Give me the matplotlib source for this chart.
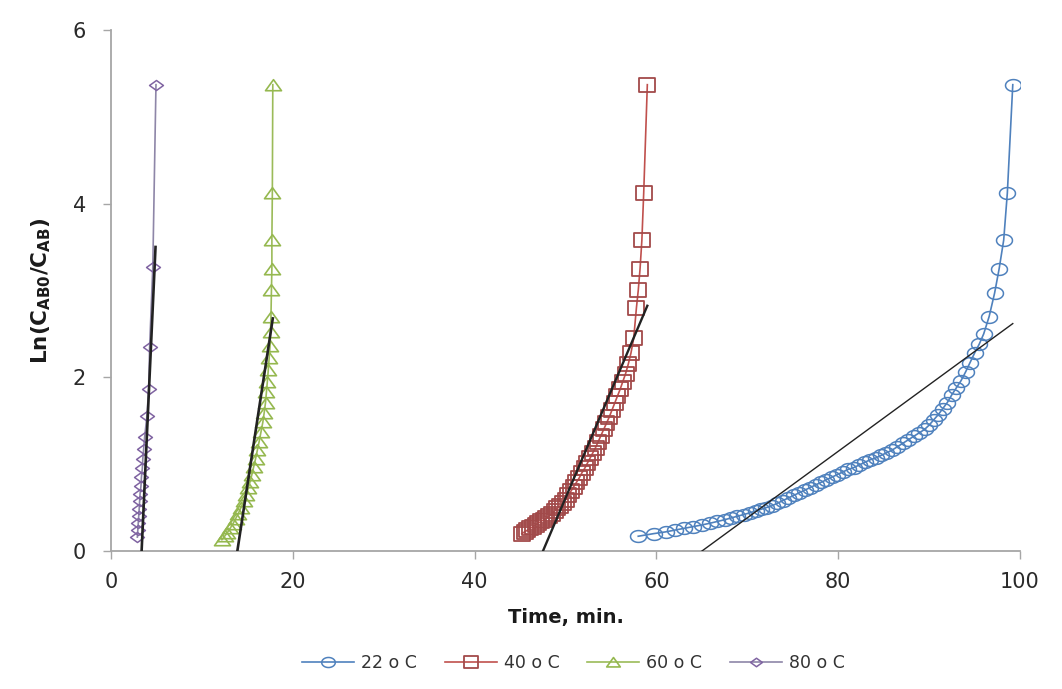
import matplotlib
matplotlib.use("Agg")
import matplotlib.pyplot as plt
from matplotlib.path import Path
import numpy as np

# ---- data ----
t22 = [58.0,59.7,61.0,62.0,63.0,64.0,65.0,65.9,66.7,67.5,68.2,68.9,69.6,70.3,70.9,71.5,72.1,72.7,73.3,73.9,
       74.5,75.1,75.7,76.3,76.9,77.5,78.1,78.7,79.3,79.9,80.5,81.1,81.7,82.3,82.9,83.5,84.1,84.7,85.3,85.9,
       86.5,87.1,87.7,88.3,88.9,89.5,90.0,90.5,91.0,91.5,92.0,92.5,93.0,93.5,94.0,94.5,95.0,95.5,96.0,96.6,
       97.2,97.7,98.2,98.6,99.2]
y22 = [0.17,0.20,0.22,0.24,0.26,0.28,0.30,0.32,0.34,0.36,0.38,0.40,0.42,0.44,0.46,0.48,0.50,0.52,0.55,0.58,
       0.61,0.64,0.67,0.70,0.73,0.76,0.79,0.82,0.85,0.88,0.91,0.94,0.96,0.99,1.02,1.05,1.07,1.10,1.13,1.16,
       1.20,1.24,1.28,1.32,1.36,1.40,1.45,1.51,1.57,1.64,1.71,1.80,1.88,1.96,2.06,2.17,2.28,2.38,2.50,2.70,
       2.97,3.25,3.58,4.12,5.37]

t40 = [45.2,45.5,45.8,46.1,46.4,46.7,47.0,47.3,47.6,47.9,48.2,48.5,48.8,49.1,49.4,49.7,50.0,50.3,50.6,50.9,
       51.2,51.5,51.8,52.1,52.4,52.7,53.0,53.3,53.6,53.9,54.2,54.5,54.8,55.1,55.4,55.7,56.0,56.3,56.6,56.9,
       57.2,57.5,57.8,58.0,58.2,58.4,58.6,59.0]
y40 = [0.20,0.22,0.24,0.26,0.28,0.30,0.32,0.34,0.36,0.38,0.40,0.43,0.46,0.49,0.52,0.55,0.59,0.64,0.69,0.74,
       0.79,0.84,0.90,0.95,1.01,1.07,1.13,1.19,1.26,1.33,1.40,1.47,1.54,1.62,1.70,1.78,1.86,1.95,2.04,2.15,
       2.28,2.45,2.80,3.00,3.25,3.58,4.12,5.37]

t60 = [12.2,12.5,12.8,13.1,13.4,13.7,14.0,14.3,14.6,14.85,15.1,15.3,15.5,15.7,15.9,16.1,16.3,16.5,16.7,16.85,
       17.0,17.1,17.2,17.3,17.4,17.5,17.55,17.6,17.65,17.7,17.7,17.75,17.8]
y60 = [0.13,0.17,0.21,0.26,0.31,0.37,0.43,0.50,0.57,0.64,0.72,0.80,0.88,0.97,1.06,1.16,1.26,1.37,1.48,1.59,
       1.71,1.83,1.95,2.08,2.22,2.36,2.52,2.70,3.00,3.25,3.58,4.12,5.37]

t80 = [2.9,2.95,3.0,3.05,3.1,3.15,3.2,3.3,3.35,3.45,3.5,3.6,3.7,3.95,4.15,4.25,4.6,4.95]
y80 = [0.16,0.24,0.32,0.40,0.48,0.57,0.66,0.75,0.85,0.95,1.06,1.18,1.31,1.55,1.87,2.35,3.27,5.37]

labels = ["22 o C", "40 o C", "60 o C", "80 o C"]

# linear fits: slope, intercept, x-range
fit_slope = [0.0766, 0.246, 0.687, 2.288]
fit_intercept = [-4.98, -11.69, -9.55, -7.71]
fit_xmin = [65.0, 47.5, 13.9, 3.37]
fit_xmax = [99.2, 59.0, 17.8, 4.90]

x_ticks = [0, 20, 40, 60, 80, 100]
y_ticks = [0, 2, 4, 6]

# ---- wide (stretched) marker shapes ----
def stretched(path, sx):
    v = path.vertices.copy()
    v[:, 0] *= sx
    return Path(v, path.codes)

ang = np.linspace(0, 2 * np.pi, 41)
circ = Path(np.column_stack([np.cos(ang), np.sin(ang)]))
sq = Path([(-1, -1), (1, -1), (1, 1), (-1, 1), (-1, -1)], closed=True)
tri = Path([(-1, -0.85), (1, -0.85), (0, 0.95), (-1, -0.85)], closed=True)
dia = Path([(-1, 0), (0, -0.72), (1, 0), (0, 0.72), (-1, 0)], closed=True)

FONT = "DejaVu Sans"

fig = plt.figure(figsize=(10.62, 6.89), dpi=100)
ax = fig.add_axes([0.1045, 0.2003, 0.856, 0.7562])

series = [
    (t22, y22, stretched(circ, 1.35), "#4F81BD", "#4F81BD", 11.5, 1.1),
    (t40, y40, stretched(sq, 1.2), "#C0504D", "#A24A4A", 11.5, 1.3),
    (t60, y60, stretched(tri, 1.3), "#9BBB59", "#95B84F", 11.5, 1.2),
    (t80, y80, dia, "#8E86A8", "#8064A2", 10, 1.1),
]
handles = []
for (tx, ty, mk, lc, mc, ms, mew), lab in zip(series, labels):
    h, = ax.plot(tx, ty, marker=mk, color=lc, mec=mc, mfc="none", ms=ms, mew=mew,
                 lw=1.2, label=lab, zorder=3)
    handles.append(h)

fit_lw = [1.0, 1.7, 1.9, 1.9]
for s, b, x0, x1, lw in zip(fit_slope, fit_intercept, fit_xmin, fit_xmax, fit_lw):
    xs = np.array([x0, x1])
    ax.plot(xs, s * xs + b, color="#222222", lw=lw, zorder=4)

ax.set_xlim(0, 100)
ax.set_ylim(0, 6)
ax.set_xticks(x_ticks)
ax.set_yticks(y_ticks)
for sp in ["top", "right"]:
    ax.spines[sp].set_visible(False)
for sp in ["left", "bottom"]:
    ax.spines[sp].set_color("#A6A6A6")
    ax.spines[sp].set_linewidth(1.3)
ax.tick_params(axis="both", colors="#A6A6A6", length=6, width=1.0, direction="out")
for lbl in ax.get_xticklabels() + ax.get_yticklabels():
    lbl.set_color("#2a2a2a")
    lbl.set_fontsize(15)
    lbl.set_family(FONT)
ax.tick_params(axis="x", pad=9)
ax.tick_params(axis="y", pad=12)

ax.set_xlabel("Time, min.", fontsize=14, fontweight="bold", family=FONT, color="#1a1a1a", labelpad=12)
ax.set_ylabel(r"Ln(C$_{\mathregular{AB0}}$/C$_{\mathregular{AB}}$)", fontsize=15.5, fontweight="bold",
              family=FONT, color="#1a1a1a", labelpad=14)

leg = fig.legend(handles=handles, loc="center", bbox_to_anchor=(0.54, 0.038), ncol=4, frameon=False,
                 prop={"family": FONT, "size": 12.5}, handlelength=3.0, columnspacing=1.6,
                 handletextpad=0.4, markerscale=0.85)
for t in leg.get_texts():
    t.set_color("#333333")

fig.savefig("out.png", dpi=100)
